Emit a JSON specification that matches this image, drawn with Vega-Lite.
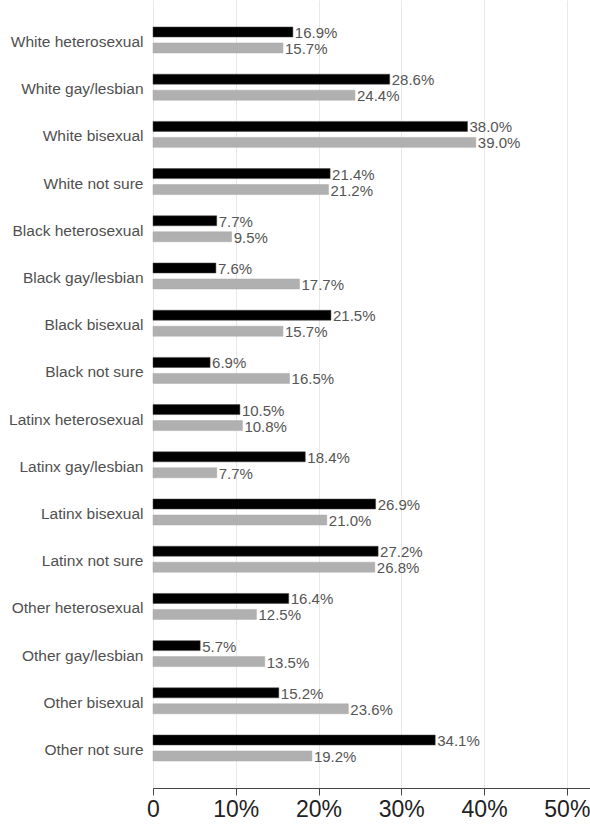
{
  "$schema": "https://vega.github.io/schema/vega-lite/v6.json",
  "autosize": {"type": "none"},
  "padding": {"left": 153, "top": 0, "right": 0, "bottom": 44},
  "width": 437,
  "height": 788,
  "background": "white",
  "config": {
    "view": {"stroke": null},
    "font": "Liberation Sans"
  },
  "data": {"values": [
    {"group": "White heterosexual", "series": "first", "value": 0.169},
    {"group": "White heterosexual", "series": "second", "value": 0.157},
    {"group": "White gay/lesbian", "series": "first", "value": 0.286},
    {"group": "White gay/lesbian", "series": "second", "value": 0.244},
    {"group": "White bisexual", "series": "first", "value": 0.380},
    {"group": "White bisexual", "series": "second", "value": 0.390},
    {"group": "White not sure", "series": "first", "value": 0.214},
    {"group": "White not sure", "series": "second", "value": 0.212},
    {"group": "Black heterosexual", "series": "first", "value": 0.077},
    {"group": "Black heterosexual", "series": "second", "value": 0.095},
    {"group": "Black gay/lesbian", "series": "first", "value": 0.076},
    {"group": "Black gay/lesbian", "series": "second", "value": 0.177},
    {"group": "Black bisexual", "series": "first", "value": 0.215},
    {"group": "Black bisexual", "series": "second", "value": 0.157},
    {"group": "Black not sure", "series": "first", "value": 0.069},
    {"group": "Black not sure", "series": "second", "value": 0.165},
    {"group": "Latinx heterosexual", "series": "first", "value": 0.105},
    {"group": "Latinx heterosexual", "series": "second", "value": 0.108},
    {"group": "Latinx gay/lesbian", "series": "first", "value": 0.184},
    {"group": "Latinx gay/lesbian", "series": "second", "value": 0.077},
    {"group": "Latinx bisexual", "series": "first", "value": 0.269},
    {"group": "Latinx bisexual", "series": "second", "value": 0.210},
    {"group": "Latinx not sure", "series": "first", "value": 0.272},
    {"group": "Latinx not sure", "series": "second", "value": 0.268},
    {"group": "Other heterosexual", "series": "first", "value": 0.164},
    {"group": "Other heterosexual", "series": "second", "value": 0.125},
    {"group": "Other gay/lesbian", "series": "first", "value": 0.057},
    {"group": "Other gay/lesbian", "series": "second", "value": 0.135},
    {"group": "Other bisexual", "series": "first", "value": 0.152},
    {"group": "Other bisexual", "series": "second", "value": 0.236},
    {"group": "Other not sure", "series": "first", "value": 0.341},
    {"group": "Other not sure", "series": "second", "value": 0.192}
  ]},
  "encoding": {
    "y": {
      "field": "group", "type": "nominal", "sort": null,
      "scale": {"paddingInner": 0.45, "paddingOuter": 0.572},
      "axis": {"title": null, "ticks": false, "domain": false, "labelFontSize": 15.5, "labelColor": "#505050", "labelPadding": 10, "labelOffset": 2}
    },
    "yOffset": {
      "field": "series", "type": "nominal",
      "scale": {"paddingInner": 0.375, "paddingOuter": 0}
    },
    "x": {
      "field": "value", "type": "quantitative",
      "scale": {"domain": [0, 0.528], "nice": false},
      "axis": {
        "title": null, "values": [0, 0.1, 0.2, 0.3, 0.4, 0.5],
        "labelExpr": "datum.value == 0 ? '0' : format(datum.value, '.0%')",
        "labelFontSize": 23, "labelColor": "#222", "labelPadding": 3,
        "domainColor": "#444", "tickColor": "#444", "tickSize": 7,
        "gridColor": "#e8e8e8", "labelFlush": false
      }
    }
  },
  "layer": [
    {
      "mark": {"type": "bar", "strokeWidth": 0.5},
      "encoding": {
        "color": {"field": "series", "type": "nominal", "scale": {"domain": ["first", "second"], "range": ["#000000", "#b0b0b0"]}, "legend": null},
        "stroke": {"field": "series", "type": "nominal", "scale": {"domain": ["first", "second"], "range": ["#444444", "#a8a8a8"]}, "legend": null}
      }
    },
    {
      "mark": {"type": "text", "align": "left", "baseline": "middle", "dx": 2, "dy": 1, "fontSize": 15, "color": "#555"},
      "encoding": {
        "text": {"field": "value", "type": "quantitative", "format": ".1%"}
      }
    }
  ]
}
